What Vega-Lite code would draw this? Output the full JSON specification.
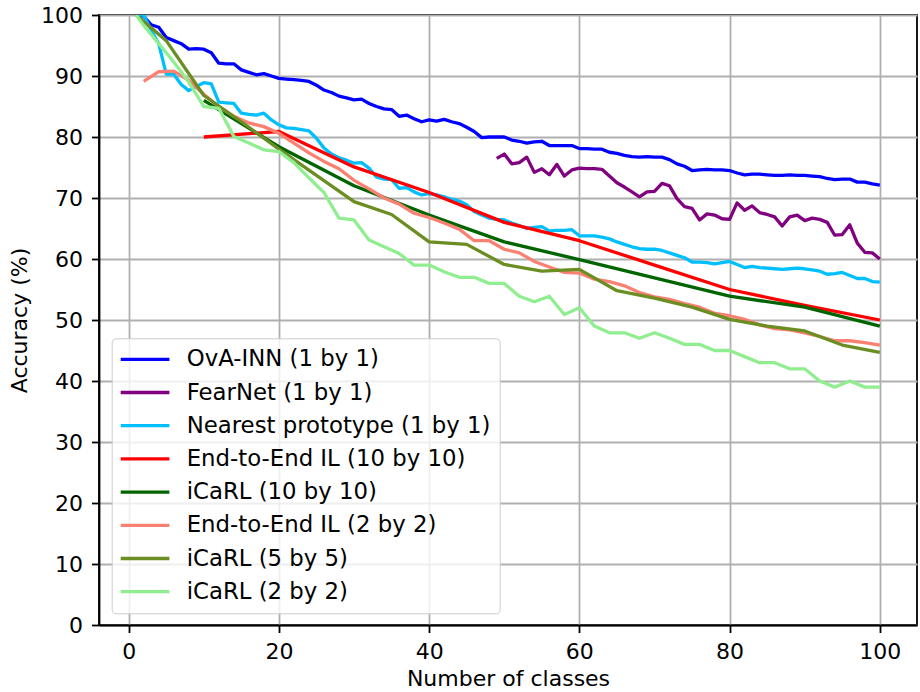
{
  "$schema": "https://vega.github.io/schema/vega-lite/v6.json",
  "width": 818,
  "height": 610,
  "autosize": {"type": "none"},
  "padding": {"left": 99, "top": 15, "right": 3, "bottom": 67},
  "background": "white",
  "config": {
    "font": "DejaVu Sans",
    "view": {"stroke": "black", "strokeWidth": 1.8},
    "axis": {
      "labelFont": "DejaVu Sans",
      "titleFont": "DejaVu Sans",
      "labelFontSize": 22,
      "titleFontSize": 22,
      "titleFontWeight": "normal",
      "labelColor": "black",
      "titleColor": "black",
      "tickColor": "black",
      "tickSize": 7.5,
      "tickWidth": 1.8,
      "domainColor": "black",
      "domainWidth": 1.8,
      "gridColor": "#b0b0b0",
      "gridWidth": 1.8,
      "gridOpacity": 1,
      "labelPadding": 9
    }
  },
  "data": {
    "values": [
      {"method": "OvA-INN (1 by 1)", "classes": 1, "acc": 100},
      {"method": "OvA-INN (1 by 1)", "classes": 2, "acc": 99.8},
      {"method": "OvA-INN (1 by 1)", "classes": 3, "acc": 98.4},
      {"method": "OvA-INN (1 by 1)", "classes": 4, "acc": 98.0},
      {"method": "OvA-INN (1 by 1)", "classes": 5, "acc": 96.3},
      {"method": "OvA-INN (1 by 1)", "classes": 6, "acc": 95.8},
      {"method": "OvA-INN (1 by 1)", "classes": 7, "acc": 95.3},
      {"method": "OvA-INN (1 by 1)", "classes": 8, "acc": 94.4},
      {"method": "OvA-INN (1 by 1)", "classes": 9, "acc": 94.5},
      {"method": "OvA-INN (1 by 1)", "classes": 10, "acc": 94.4},
      {"method": "OvA-INN (1 by 1)", "classes": 11, "acc": 93.8},
      {"method": "OvA-INN (1 by 1)", "classes": 12, "acc": 92.1},
      {"method": "OvA-INN (1 by 1)", "classes": 13, "acc": 92.0},
      {"method": "OvA-INN (1 by 1)", "classes": 14, "acc": 92.0},
      {"method": "OvA-INN (1 by 1)", "classes": 15, "acc": 91.0},
      {"method": "OvA-INN (1 by 1)", "classes": 16, "acc": 90.6},
      {"method": "OvA-INN (1 by 1)", "classes": 17, "acc": 90.2},
      {"method": "OvA-INN (1 by 1)", "classes": 18, "acc": 90.4},
      {"method": "OvA-INN (1 by 1)", "classes": 19, "acc": 90.0},
      {"method": "OvA-INN (1 by 1)", "classes": 20, "acc": 89.6},
      {"method": "OvA-INN (1 by 1)", "classes": 21, "acc": 89.5},
      {"method": "OvA-INN (1 by 1)", "classes": 22, "acc": 89.4},
      {"method": "OvA-INN (1 by 1)", "classes": 23, "acc": 89.3},
      {"method": "OvA-INN (1 by 1)", "classes": 24, "acc": 89.1},
      {"method": "OvA-INN (1 by 1)", "classes": 25, "acc": 88.5},
      {"method": "OvA-INN (1 by 1)", "classes": 26, "acc": 87.7},
      {"method": "OvA-INN (1 by 1)", "classes": 27, "acc": 87.3},
      {"method": "OvA-INN (1 by 1)", "classes": 28, "acc": 86.7},
      {"method": "OvA-INN (1 by 1)", "classes": 29, "acc": 86.4},
      {"method": "OvA-INN (1 by 1)", "classes": 30, "acc": 86.1},
      {"method": "OvA-INN (1 by 1)", "classes": 31, "acc": 86.2},
      {"method": "OvA-INN (1 by 1)", "classes": 32, "acc": 85.5},
      {"method": "OvA-INN (1 by 1)", "classes": 33, "acc": 85.0},
      {"method": "OvA-INN (1 by 1)", "classes": 34, "acc": 84.6},
      {"method": "OvA-INN (1 by 1)", "classes": 35, "acc": 84.5},
      {"method": "OvA-INN (1 by 1)", "classes": 36, "acc": 83.4},
      {"method": "OvA-INN (1 by 1)", "classes": 37, "acc": 83.6},
      {"method": "OvA-INN (1 by 1)", "classes": 38, "acc": 83.0},
      {"method": "OvA-INN (1 by 1)", "classes": 39, "acc": 82.5},
      {"method": "OvA-INN (1 by 1)", "classes": 40, "acc": 82.8},
      {"method": "OvA-INN (1 by 1)", "classes": 41, "acc": 82.6},
      {"method": "OvA-INN (1 by 1)", "classes": 42, "acc": 82.9},
      {"method": "OvA-INN (1 by 1)", "classes": 43, "acc": 82.5},
      {"method": "OvA-INN (1 by 1)", "classes": 44, "acc": 82.2},
      {"method": "OvA-INN (1 by 1)", "classes": 45, "acc": 81.6},
      {"method": "OvA-INN (1 by 1)", "classes": 46, "acc": 80.9},
      {"method": "OvA-INN (1 by 1)", "classes": 47, "acc": 79.9},
      {"method": "OvA-INN (1 by 1)", "classes": 48, "acc": 80.0},
      {"method": "OvA-INN (1 by 1)", "classes": 49, "acc": 80.0},
      {"method": "OvA-INN (1 by 1)", "classes": 50, "acc": 80.0},
      {"method": "OvA-INN (1 by 1)", "classes": 51, "acc": 79.5},
      {"method": "OvA-INN (1 by 1)", "classes": 52, "acc": 79.3},
      {"method": "OvA-INN (1 by 1)", "classes": 53, "acc": 79.0},
      {"method": "OvA-INN (1 by 1)", "classes": 54, "acc": 79.2},
      {"method": "OvA-INN (1 by 1)", "classes": 55, "acc": 79.3},
      {"method": "OvA-INN (1 by 1)", "classes": 56, "acc": 78.6},
      {"method": "OvA-INN (1 by 1)", "classes": 57, "acc": 78.6},
      {"method": "OvA-INN (1 by 1)", "classes": 58, "acc": 78.6},
      {"method": "OvA-INN (1 by 1)", "classes": 59, "acc": 78.6},
      {"method": "OvA-INN (1 by 1)", "classes": 60, "acc": 78.1},
      {"method": "OvA-INN (1 by 1)", "classes": 61, "acc": 78.1},
      {"method": "OvA-INN (1 by 1)", "classes": 62, "acc": 78.0},
      {"method": "OvA-INN (1 by 1)", "classes": 63, "acc": 78.0},
      {"method": "OvA-INN (1 by 1)", "classes": 64, "acc": 77.5},
      {"method": "OvA-INN (1 by 1)", "classes": 65, "acc": 77.3},
      {"method": "OvA-INN (1 by 1)", "classes": 66, "acc": 77.0},
      {"method": "OvA-INN (1 by 1)", "classes": 67, "acc": 76.8},
      {"method": "OvA-INN (1 by 1)", "classes": 68, "acc": 76.7},
      {"method": "OvA-INN (1 by 1)", "classes": 69, "acc": 76.8},
      {"method": "OvA-INN (1 by 1)", "classes": 70, "acc": 76.7},
      {"method": "OvA-INN (1 by 1)", "classes": 71, "acc": 76.7},
      {"method": "OvA-INN (1 by 1)", "classes": 72, "acc": 76.3},
      {"method": "OvA-INN (1 by 1)", "classes": 73, "acc": 75.6},
      {"method": "OvA-INN (1 by 1)", "classes": 74, "acc": 75.2},
      {"method": "OvA-INN (1 by 1)", "classes": 75, "acc": 74.5},
      {"method": "OvA-INN (1 by 1)", "classes": 76, "acc": 74.6},
      {"method": "OvA-INN (1 by 1)", "classes": 77, "acc": 74.7},
      {"method": "OvA-INN (1 by 1)", "classes": 78, "acc": 74.6},
      {"method": "OvA-INN (1 by 1)", "classes": 79, "acc": 74.6},
      {"method": "OvA-INN (1 by 1)", "classes": 80, "acc": 74.5},
      {"method": "OvA-INN (1 by 1)", "classes": 81, "acc": 74.1},
      {"method": "OvA-INN (1 by 1)", "classes": 82, "acc": 73.8},
      {"method": "OvA-INN (1 by 1)", "classes": 83, "acc": 73.9},
      {"method": "OvA-INN (1 by 1)", "classes": 84, "acc": 73.9},
      {"method": "OvA-INN (1 by 1)", "classes": 85, "acc": 73.8},
      {"method": "OvA-INN (1 by 1)", "classes": 86, "acc": 73.7},
      {"method": "OvA-INN (1 by 1)", "classes": 87, "acc": 73.7},
      {"method": "OvA-INN (1 by 1)", "classes": 88, "acc": 73.8},
      {"method": "OvA-INN (1 by 1)", "classes": 89, "acc": 73.7},
      {"method": "OvA-INN (1 by 1)", "classes": 90, "acc": 73.7},
      {"method": "OvA-INN (1 by 1)", "classes": 91, "acc": 73.6},
      {"method": "OvA-INN (1 by 1)", "classes": 92, "acc": 73.5},
      {"method": "OvA-INN (1 by 1)", "classes": 93, "acc": 73.2},
      {"method": "OvA-INN (1 by 1)", "classes": 94, "acc": 73.0},
      {"method": "OvA-INN (1 by 1)", "classes": 95, "acc": 73.1},
      {"method": "OvA-INN (1 by 1)", "classes": 96, "acc": 73.1},
      {"method": "OvA-INN (1 by 1)", "classes": 97, "acc": 72.6},
      {"method": "OvA-INN (1 by 1)", "classes": 98, "acc": 72.6},
      {"method": "OvA-INN (1 by 1)", "classes": 99, "acc": 72.3},
      {"method": "OvA-INN (1 by 1)", "classes": 100, "acc": 72.1},

      {"method": "FearNet (1 by 1)", "classes": 49, "acc": 76.5},
      {"method": "FearNet (1 by 1)", "classes": 50, "acc": 77.2},
      {"method": "FearNet (1 by 1)", "classes": 51, "acc": 75.6},
      {"method": "FearNet (1 by 1)", "classes": 52, "acc": 75.8},
      {"method": "FearNet (1 by 1)", "classes": 53, "acc": 76.7},
      {"method": "FearNet (1 by 1)", "classes": 54, "acc": 74.2},
      {"method": "FearNet (1 by 1)", "classes": 55, "acc": 74.8},
      {"method": "FearNet (1 by 1)", "classes": 56, "acc": 73.8},
      {"method": "FearNet (1 by 1)", "classes": 57, "acc": 75.5},
      {"method": "FearNet (1 by 1)", "classes": 58, "acc": 73.6},
      {"method": "FearNet (1 by 1)", "classes": 59, "acc": 74.6},
      {"method": "FearNet (1 by 1)", "classes": 60, "acc": 74.9},
      {"method": "FearNet (1 by 1)", "classes": 61, "acc": 74.8},
      {"method": "FearNet (1 by 1)", "classes": 62, "acc": 74.8},
      {"method": "FearNet (1 by 1)", "classes": 63, "acc": 74.7},
      {"method": "FearNet (1 by 1)", "classes": 64, "acc": 73.6},
      {"method": "FearNet (1 by 1)", "classes": 65, "acc": 72.5},
      {"method": "FearNet (1 by 1)", "classes": 66, "acc": 71.8},
      {"method": "FearNet (1 by 1)", "classes": 67, "acc": 71.0},
      {"method": "FearNet (1 by 1)", "classes": 68, "acc": 70.2},
      {"method": "FearNet (1 by 1)", "classes": 69, "acc": 71.0},
      {"method": "FearNet (1 by 1)", "classes": 70, "acc": 71.1},
      {"method": "FearNet (1 by 1)", "classes": 71, "acc": 72.4},
      {"method": "FearNet (1 by 1)", "classes": 72, "acc": 72.0},
      {"method": "FearNet (1 by 1)", "classes": 73, "acc": 69.9},
      {"method": "FearNet (1 by 1)", "classes": 74, "acc": 68.6},
      {"method": "FearNet (1 by 1)", "classes": 75, "acc": 68.3},
      {"method": "FearNet (1 by 1)", "classes": 76, "acc": 66.4},
      {"method": "FearNet (1 by 1)", "classes": 77, "acc": 67.4},
      {"method": "FearNet (1 by 1)", "classes": 78, "acc": 67.2},
      {"method": "FearNet (1 by 1)", "classes": 79, "acc": 66.6},
      {"method": "FearNet (1 by 1)", "classes": 80, "acc": 66.5},
      {"method": "FearNet (1 by 1)", "classes": 81, "acc": 69.2},
      {"method": "FearNet (1 by 1)", "classes": 82, "acc": 68.0},
      {"method": "FearNet (1 by 1)", "classes": 83, "acc": 68.7},
      {"method": "FearNet (1 by 1)", "classes": 84, "acc": 67.6},
      {"method": "FearNet (1 by 1)", "classes": 85, "acc": 67.3},
      {"method": "FearNet (1 by 1)", "classes": 86, "acc": 66.9},
      {"method": "FearNet (1 by 1)", "classes": 87, "acc": 65.4},
      {"method": "FearNet (1 by 1)", "classes": 88, "acc": 66.9},
      {"method": "FearNet (1 by 1)", "classes": 89, "acc": 67.2},
      {"method": "FearNet (1 by 1)", "classes": 90, "acc": 66.3},
      {"method": "FearNet (1 by 1)", "classes": 91, "acc": 66.7},
      {"method": "FearNet (1 by 1)", "classes": 92, "acc": 66.5},
      {"method": "FearNet (1 by 1)", "classes": 93, "acc": 66.0},
      {"method": "FearNet (1 by 1)", "classes": 94, "acc": 63.9},
      {"method": "FearNet (1 by 1)", "classes": 95, "acc": 64.0},
      {"method": "FearNet (1 by 1)", "classes": 96, "acc": 65.6},
      {"method": "FearNet (1 by 1)", "classes": 97, "acc": 62.6},
      {"method": "FearNet (1 by 1)", "classes": 98, "acc": 61.1},
      {"method": "FearNet (1 by 1)", "classes": 99, "acc": 61.0},
      {"method": "FearNet (1 by 1)", "classes": 100, "acc": 60.0},

      {"method": "Nearest prototype (1 by 1)", "classes": 1, "acc": 100},
      {"method": "Nearest prototype (1 by 1)", "classes": 2, "acc": 100},
      {"method": "Nearest prototype (1 by 1)", "classes": 3, "acc": 97.5},
      {"method": "Nearest prototype (1 by 1)", "classes": 4, "acc": 95.3},
      {"method": "Nearest prototype (1 by 1)", "classes": 5, "acc": 90.3},
      {"method": "Nearest prototype (1 by 1)", "classes": 6, "acc": 90.3},
      {"method": "Nearest prototype (1 by 1)", "classes": 7, "acc": 88.6},
      {"method": "Nearest prototype (1 by 1)", "classes": 8, "acc": 87.6},
      {"method": "Nearest prototype (1 by 1)", "classes": 9, "acc": 88.3},
      {"method": "Nearest prototype (1 by 1)", "classes": 10, "acc": 88.9},
      {"method": "Nearest prototype (1 by 1)", "classes": 11, "acc": 88.7},
      {"method": "Nearest prototype (1 by 1)", "classes": 12, "acc": 85.7},
      {"method": "Nearest prototype (1 by 1)", "classes": 13, "acc": 85.6},
      {"method": "Nearest prototype (1 by 1)", "classes": 14, "acc": 85.5},
      {"method": "Nearest prototype (1 by 1)", "classes": 15, "acc": 83.9},
      {"method": "Nearest prototype (1 by 1)", "classes": 16, "acc": 83.7},
      {"method": "Nearest prototype (1 by 1)", "classes": 17, "acc": 83.6},
      {"method": "Nearest prototype (1 by 1)", "classes": 18, "acc": 83.9},
      {"method": "Nearest prototype (1 by 1)", "classes": 19, "acc": 82.8},
      {"method": "Nearest prototype (1 by 1)", "classes": 20, "acc": 82.0},
      {"method": "Nearest prototype (1 by 1)", "classes": 21, "acc": 81.5},
      {"method": "Nearest prototype (1 by 1)", "classes": 22, "acc": 81.4},
      {"method": "Nearest prototype (1 by 1)", "classes": 23, "acc": 81.2},
      {"method": "Nearest prototype (1 by 1)", "classes": 24, "acc": 81.0},
      {"method": "Nearest prototype (1 by 1)", "classes": 25, "acc": 79.8},
      {"method": "Nearest prototype (1 by 1)", "classes": 26, "acc": 78.2},
      {"method": "Nearest prototype (1 by 1)", "classes": 27, "acc": 77.2},
      {"method": "Nearest prototype (1 by 1)", "classes": 28, "acc": 76.6},
      {"method": "Nearest prototype (1 by 1)", "classes": 29, "acc": 76.2},
      {"method": "Nearest prototype (1 by 1)", "classes": 30, "acc": 75.7},
      {"method": "Nearest prototype (1 by 1)", "classes": 31, "acc": 75.8},
      {"method": "Nearest prototype (1 by 1)", "classes": 32, "acc": 74.9},
      {"method": "Nearest prototype (1 by 1)", "classes": 33, "acc": 73.4},
      {"method": "Nearest prototype (1 by 1)", "classes": 34, "acc": 73.1},
      {"method": "Nearest prototype (1 by 1)", "classes": 35, "acc": 73.0},
      {"method": "Nearest prototype (1 by 1)", "classes": 36, "acc": 71.6},
      {"method": "Nearest prototype (1 by 1)", "classes": 37, "acc": 71.7},
      {"method": "Nearest prototype (1 by 1)", "classes": 38, "acc": 71.0},
      {"method": "Nearest prototype (1 by 1)", "classes": 39, "acc": 70.5},
      {"method": "Nearest prototype (1 by 1)", "classes": 40, "acc": 70.7},
      {"method": "Nearest prototype (1 by 1)", "classes": 41, "acc": 70.5},
      {"method": "Nearest prototype (1 by 1)", "classes": 42, "acc": 70.2},
      {"method": "Nearest prototype (1 by 1)", "classes": 43, "acc": 69.8},
      {"method": "Nearest prototype (1 by 1)", "classes": 44, "acc": 69.5},
      {"method": "Nearest prototype (1 by 1)", "classes": 45, "acc": 68.9},
      {"method": "Nearest prototype (1 by 1)", "classes": 46, "acc": 67.8},
      {"method": "Nearest prototype (1 by 1)", "classes": 47, "acc": 67.2},
      {"method": "Nearest prototype (1 by 1)", "classes": 48, "acc": 66.7},
      {"method": "Nearest prototype (1 by 1)", "classes": 49, "acc": 66.5},
      {"method": "Nearest prototype (1 by 1)", "classes": 50, "acc": 66.4},
      {"method": "Nearest prototype (1 by 1)", "classes": 51, "acc": 65.9},
      {"method": "Nearest prototype (1 by 1)", "classes": 52, "acc": 65.5},
      {"method": "Nearest prototype (1 by 1)", "classes": 53, "acc": 65.0},
      {"method": "Nearest prototype (1 by 1)", "classes": 54, "acc": 65.2},
      {"method": "Nearest prototype (1 by 1)", "classes": 55, "acc": 65.3},
      {"method": "Nearest prototype (1 by 1)", "classes": 56, "acc": 64.6},
      {"method": "Nearest prototype (1 by 1)", "classes": 57, "acc": 64.7},
      {"method": "Nearest prototype (1 by 1)", "classes": 58, "acc": 64.7},
      {"method": "Nearest prototype (1 by 1)", "classes": 59, "acc": 64.8},
      {"method": "Nearest prototype (1 by 1)", "classes": 60, "acc": 63.8},
      {"method": "Nearest prototype (1 by 1)", "classes": 61, "acc": 63.8},
      {"method": "Nearest prototype (1 by 1)", "classes": 62, "acc": 63.8},
      {"method": "Nearest prototype (1 by 1)", "classes": 63, "acc": 63.6},
      {"method": "Nearest prototype (1 by 1)", "classes": 64, "acc": 63.3},
      {"method": "Nearest prototype (1 by 1)", "classes": 65, "acc": 62.8},
      {"method": "Nearest prototype (1 by 1)", "classes": 66, "acc": 62.4},
      {"method": "Nearest prototype (1 by 1)", "classes": 67, "acc": 62.0},
      {"method": "Nearest prototype (1 by 1)", "classes": 68, "acc": 61.7},
      {"method": "Nearest prototype (1 by 1)", "classes": 69, "acc": 61.6},
      {"method": "Nearest prototype (1 by 1)", "classes": 70, "acc": 61.6},
      {"method": "Nearest prototype (1 by 1)", "classes": 71, "acc": 61.4},
      {"method": "Nearest prototype (1 by 1)", "classes": 72, "acc": 61.0},
      {"method": "Nearest prototype (1 by 1)", "classes": 73, "acc": 60.6},
      {"method": "Nearest prototype (1 by 1)", "classes": 74, "acc": 60.2},
      {"method": "Nearest prototype (1 by 1)", "classes": 75, "acc": 59.5},
      {"method": "Nearest prototype (1 by 1)", "classes": 76, "acc": 59.5},
      {"method": "Nearest prototype (1 by 1)", "classes": 77, "acc": 59.4},
      {"method": "Nearest prototype (1 by 1)", "classes": 78, "acc": 59.2},
      {"method": "Nearest prototype (1 by 1)", "classes": 79, "acc": 59.4},
      {"method": "Nearest prototype (1 by 1)", "classes": 80, "acc": 59.6},
      {"method": "Nearest prototype (1 by 1)", "classes": 81, "acc": 59.1},
      {"method": "Nearest prototype (1 by 1)", "classes": 82, "acc": 58.6},
      {"method": "Nearest prototype (1 by 1)", "classes": 83, "acc": 58.8},
      {"method": "Nearest prototype (1 by 1)", "classes": 84, "acc": 58.6},
      {"method": "Nearest prototype (1 by 1)", "classes": 85, "acc": 58.5},
      {"method": "Nearest prototype (1 by 1)", "classes": 86, "acc": 58.4},
      {"method": "Nearest prototype (1 by 1)", "classes": 87, "acc": 58.3},
      {"method": "Nearest prototype (1 by 1)", "classes": 88, "acc": 58.4},
      {"method": "Nearest prototype (1 by 1)", "classes": 89, "acc": 58.5},
      {"method": "Nearest prototype (1 by 1)", "classes": 90, "acc": 58.4},
      {"method": "Nearest prototype (1 by 1)", "classes": 91, "acc": 58.2},
      {"method": "Nearest prototype (1 by 1)", "classes": 92, "acc": 58.0},
      {"method": "Nearest prototype (1 by 1)", "classes": 93, "acc": 57.5},
      {"method": "Nearest prototype (1 by 1)", "classes": 94, "acc": 57.6},
      {"method": "Nearest prototype (1 by 1)", "classes": 95, "acc": 57.8},
      {"method": "Nearest prototype (1 by 1)", "classes": 96, "acc": 57.3},
      {"method": "Nearest prototype (1 by 1)", "classes": 97, "acc": 56.8},
      {"method": "Nearest prototype (1 by 1)", "classes": 98, "acc": 56.8},
      {"method": "Nearest prototype (1 by 1)", "classes": 99, "acc": 56.3},
      {"method": "Nearest prototype (1 by 1)", "classes": 100, "acc": 56.2},

      {"method": "End-to-End IL (10 by 10)", "classes": 10, "acc": 80.0},
      {"method": "End-to-End IL (10 by 10)", "classes": 20, "acc": 80.9},
      {"method": "End-to-End IL (10 by 10)", "classes": 30, "acc": 75.1},
      {"method": "End-to-End IL (10 by 10)", "classes": 40, "acc": 70.9},
      {"method": "End-to-End IL (10 by 10)", "classes": 50, "acc": 66.0},
      {"method": "End-to-End IL (10 by 10)", "classes": 60, "acc": 63.0},
      {"method": "End-to-End IL (10 by 10)", "classes": 70, "acc": 59.0},
      {"method": "End-to-End IL (10 by 10)", "classes": 80, "acc": 55.0},
      {"method": "End-to-End IL (10 by 10)", "classes": 90, "acc": 52.4},
      {"method": "End-to-End IL (10 by 10)", "classes": 100, "acc": 50.0},

      {"method": "iCaRL (10 by 10)", "classes": 10, "acc": 86.0},
      {"method": "iCaRL (10 by 10)", "classes": 20, "acc": 78.4},
      {"method": "iCaRL (10 by 10)", "classes": 30, "acc": 72.0},
      {"method": "iCaRL (10 by 10)", "classes": 40, "acc": 67.2},
      {"method": "iCaRL (10 by 10)", "classes": 50, "acc": 62.8},
      {"method": "iCaRL (10 by 10)", "classes": 60, "acc": 59.9},
      {"method": "iCaRL (10 by 10)", "classes": 70, "acc": 56.9},
      {"method": "iCaRL (10 by 10)", "classes": 80, "acc": 53.9},
      {"method": "iCaRL (10 by 10)", "classes": 90, "acc": 52.1},
      {"method": "iCaRL (10 by 10)", "classes": 100, "acc": 49.0},

      {"method": "End-to-End IL (2 by 2)", "classes": 2, "acc": 89.1},
      {"method": "End-to-End IL (2 by 2)", "classes": 4, "acc": 90.7},
      {"method": "End-to-End IL (2 by 2)", "classes": 6, "acc": 90.8},
      {"method": "End-to-End IL (2 by 2)", "classes": 8, "acc": 89.3},
      {"method": "End-to-End IL (2 by 2)", "classes": 10, "acc": 87.0},
      {"method": "End-to-End IL (2 by 2)", "classes": 12, "acc": 85.0},
      {"method": "End-to-End IL (2 by 2)", "classes": 14, "acc": 83.4},
      {"method": "End-to-End IL (2 by 2)", "classes": 16, "acc": 82.3},
      {"method": "End-to-End IL (2 by 2)", "classes": 18, "acc": 81.7},
      {"method": "End-to-End IL (2 by 2)", "classes": 20, "acc": 80.6},
      {"method": "End-to-End IL (2 by 2)", "classes": 22, "acc": 79.0},
      {"method": "End-to-End IL (2 by 2)", "classes": 24, "acc": 77.4},
      {"method": "End-to-End IL (2 by 2)", "classes": 26, "acc": 76.0},
      {"method": "End-to-End IL (2 by 2)", "classes": 28, "acc": 74.8},
      {"method": "End-to-End IL (2 by 2)", "classes": 30, "acc": 72.9},
      {"method": "End-to-End IL (2 by 2)", "classes": 32, "acc": 71.5},
      {"method": "End-to-End IL (2 by 2)", "classes": 34, "acc": 70.0},
      {"method": "End-to-End IL (2 by 2)", "classes": 36, "acc": 69.0},
      {"method": "End-to-End IL (2 by 2)", "classes": 38, "acc": 67.5},
      {"method": "End-to-End IL (2 by 2)", "classes": 40, "acc": 66.8},
      {"method": "End-to-End IL (2 by 2)", "classes": 42, "acc": 65.9},
      {"method": "End-to-End IL (2 by 2)", "classes": 44, "acc": 64.9},
      {"method": "End-to-End IL (2 by 2)", "classes": 46, "acc": 63.0},
      {"method": "End-to-End IL (2 by 2)", "classes": 48, "acc": 63.0},
      {"method": "End-to-End IL (2 by 2)", "classes": 50, "acc": 61.6},
      {"method": "End-to-End IL (2 by 2)", "classes": 52, "acc": 61.0},
      {"method": "End-to-End IL (2 by 2)", "classes": 54, "acc": 59.6},
      {"method": "End-to-End IL (2 by 2)", "classes": 56, "acc": 58.7},
      {"method": "End-to-End IL (2 by 2)", "classes": 58, "acc": 57.8},
      {"method": "End-to-End IL (2 by 2)", "classes": 60, "acc": 57.7},
      {"method": "End-to-End IL (2 by 2)", "classes": 62, "acc": 56.7},
      {"method": "End-to-End IL (2 by 2)", "classes": 64, "acc": 56.3},
      {"method": "End-to-End IL (2 by 2)", "classes": 66, "acc": 55.6},
      {"method": "End-to-End IL (2 by 2)", "classes": 68, "acc": 54.5},
      {"method": "End-to-End IL (2 by 2)", "classes": 70, "acc": 53.8},
      {"method": "End-to-End IL (2 by 2)", "classes": 72, "acc": 53.4},
      {"method": "End-to-End IL (2 by 2)", "classes": 74, "acc": 52.7},
      {"method": "End-to-End IL (2 by 2)", "classes": 76, "acc": 52.1},
      {"method": "End-to-End IL (2 by 2)", "classes": 78, "acc": 51.1},
      {"method": "End-to-End IL (2 by 2)", "classes": 80, "acc": 50.7},
      {"method": "End-to-End IL (2 by 2)", "classes": 82, "acc": 50.1},
      {"method": "End-to-End IL (2 by 2)", "classes": 84, "acc": 49.2},
      {"method": "End-to-End IL (2 by 2)", "classes": 86, "acc": 48.6},
      {"method": "End-to-End IL (2 by 2)", "classes": 88, "acc": 48.4},
      {"method": "End-to-End IL (2 by 2)", "classes": 90, "acc": 47.9},
      {"method": "End-to-End IL (2 by 2)", "classes": 92, "acc": 47.3},
      {"method": "End-to-End IL (2 by 2)", "classes": 94, "acc": 46.6},
      {"method": "End-to-End IL (2 by 2)", "classes": 96, "acc": 46.6},
      {"method": "End-to-End IL (2 by 2)", "classes": 98, "acc": 46.3},
      {"method": "End-to-End IL (2 by 2)", "classes": 100, "acc": 45.9},

      {"method": "iCaRL (5 by 5)", "classes": 1, "acc": 100},
      {"method": "iCaRL (5 by 5)", "classes": 5, "acc": 95.8},
      {"method": "iCaRL (5 by 5)", "classes": 10, "acc": 86.8},
      {"method": "iCaRL (5 by 5)", "classes": 15, "acc": 82.5},
      {"method": "iCaRL (5 by 5)", "classes": 20, "acc": 78.0},
      {"method": "iCaRL (5 by 5)", "classes": 25, "acc": 73.7},
      {"method": "iCaRL (5 by 5)", "classes": 30, "acc": 69.4},
      {"method": "iCaRL (5 by 5)", "classes": 35, "acc": 67.3},
      {"method": "iCaRL (5 by 5)", "classes": 40, "acc": 62.8},
      {"method": "iCaRL (5 by 5)", "classes": 45, "acc": 62.4},
      {"method": "iCaRL (5 by 5)", "classes": 50, "acc": 59.1},
      {"method": "iCaRL (5 by 5)", "classes": 55, "acc": 58.0},
      {"method": "iCaRL (5 by 5)", "classes": 60, "acc": 58.3},
      {"method": "iCaRL (5 by 5)", "classes": 65, "acc": 54.8},
      {"method": "iCaRL (5 by 5)", "classes": 70, "acc": 53.6},
      {"method": "iCaRL (5 by 5)", "classes": 75, "acc": 52.1},
      {"method": "iCaRL (5 by 5)", "classes": 80, "acc": 50.1},
      {"method": "iCaRL (5 by 5)", "classes": 85, "acc": 49.0},
      {"method": "iCaRL (5 by 5)", "classes": 90, "acc": 48.2},
      {"method": "iCaRL (5 by 5)", "classes": 95, "acc": 45.9},
      {"method": "iCaRL (5 by 5)", "classes": 100, "acc": 44.7},

      {"method": "iCaRL (2 by 2)", "classes": 1, "acc": 100},
      {"method": "iCaRL (2 by 2)", "classes": 2, "acc": 98.3},
      {"method": "iCaRL (2 by 2)", "classes": 4, "acc": 95.3},
      {"method": "iCaRL (2 by 2)", "classes": 6, "acc": 92.3},
      {"method": "iCaRL (2 by 2)", "classes": 8, "acc": 89.0},
      {"method": "iCaRL (2 by 2)", "classes": 10, "acc": 85.0},
      {"method": "iCaRL (2 by 2)", "classes": 12, "acc": 84.7},
      {"method": "iCaRL (2 by 2)", "classes": 14, "acc": 80.1},
      {"method": "iCaRL (2 by 2)", "classes": 16, "acc": 79.0},
      {"method": "iCaRL (2 by 2)", "classes": 18, "acc": 77.9},
      {"method": "iCaRL (2 by 2)", "classes": 20, "acc": 77.6},
      {"method": "iCaRL (2 by 2)", "classes": 22, "acc": 75.8},
      {"method": "iCaRL (2 by 2)", "classes": 24, "acc": 73.3},
      {"method": "iCaRL (2 by 2)", "classes": 26, "acc": 70.9},
      {"method": "iCaRL (2 by 2)", "classes": 28, "acc": 66.7},
      {"method": "iCaRL (2 by 2)", "classes": 30, "acc": 66.4},
      {"method": "iCaRL (2 by 2)", "classes": 32, "acc": 63.1},
      {"method": "iCaRL (2 by 2)", "classes": 34, "acc": 62.0},
      {"method": "iCaRL (2 by 2)", "classes": 36, "acc": 60.9},
      {"method": "iCaRL (2 by 2)", "classes": 38, "acc": 59.0},
      {"method": "iCaRL (2 by 2)", "classes": 40, "acc": 59.0},
      {"method": "iCaRL (2 by 2)", "classes": 42, "acc": 57.9},
      {"method": "iCaRL (2 by 2)", "classes": 44, "acc": 57.0},
      {"method": "iCaRL (2 by 2)", "classes": 46, "acc": 57.0},
      {"method": "iCaRL (2 by 2)", "classes": 48, "acc": 56.0},
      {"method": "iCaRL (2 by 2)", "classes": 50, "acc": 56.0},
      {"method": "iCaRL (2 by 2)", "classes": 52, "acc": 53.9},
      {"method": "iCaRL (2 by 2)", "classes": 54, "acc": 53.0},
      {"method": "iCaRL (2 by 2)", "classes": 56, "acc": 53.9},
      {"method": "iCaRL (2 by 2)", "classes": 58, "acc": 50.9},
      {"method": "iCaRL (2 by 2)", "classes": 60, "acc": 52.0},
      {"method": "iCaRL (2 by 2)", "classes": 62, "acc": 49.0},
      {"method": "iCaRL (2 by 2)", "classes": 64, "acc": 47.9},
      {"method": "iCaRL (2 by 2)", "classes": 66, "acc": 47.9},
      {"method": "iCaRL (2 by 2)", "classes": 68, "acc": 47.0},
      {"method": "iCaRL (2 by 2)", "classes": 70, "acc": 47.9},
      {"method": "iCaRL (2 by 2)", "classes": 72, "acc": 47.0},
      {"method": "iCaRL (2 by 2)", "classes": 74, "acc": 46.0},
      {"method": "iCaRL (2 by 2)", "classes": 76, "acc": 46.0},
      {"method": "iCaRL (2 by 2)", "classes": 78, "acc": 45.0},
      {"method": "iCaRL (2 by 2)", "classes": 80, "acc": 45.0},
      {"method": "iCaRL (2 by 2)", "classes": 82, "acc": 44.0},
      {"method": "iCaRL (2 by 2)", "classes": 84, "acc": 43.0},
      {"method": "iCaRL (2 by 2)", "classes": 86, "acc": 43.0},
      {"method": "iCaRL (2 by 2)", "classes": 88, "acc": 42.0},
      {"method": "iCaRL (2 by 2)", "classes": 90, "acc": 42.0},
      {"method": "iCaRL (2 by 2)", "classes": 92, "acc": 40.0},
      {"method": "iCaRL (2 by 2)", "classes": 94, "acc": 39.0},
      {"method": "iCaRL (2 by 2)", "classes": 96, "acc": 40.0},
      {"method": "iCaRL (2 by 2)", "classes": 98, "acc": 39.0},
      {"method": "iCaRL (2 by 2)", "classes": 100, "acc": 39.0}
    ]
  },
  "mark": {"type": "line", "strokeWidth": 3.3, "strokeJoin": "round", "clip": true},
  "encoding": {
    "x": {
      "field": "classes",
      "type": "quantitative",
      "scale": {"domain": [-3.95, 104.95], "nice": false, "zero": false},
      "axis": {"values": [0, 20, 40, 60, 80, 100], "title": "Number of classes", "titlePadding": 6}
    },
    "y": {
      "field": "acc",
      "type": "quantitative",
      "scale": {"domain": [0, 100], "nice": false},
      "axis": {"values": [0, 10, 20, 30, 40, 50, 60, 70, 80, 90, 100], "title": "Accuracy (%)", "titlePadding": 9}
    },
    "color": {
      "field": "method",
      "type": "nominal",
      "scale": {
        "domain": ["OvA-INN (1 by 1)", "FearNet (1 by 1)", "Nearest prototype (1 by 1)", "End-to-End IL (10 by 10)", "iCaRL (10 by 10)", "End-to-End IL (2 by 2)", "iCaRL (5 by 5)", "iCaRL (2 by 2)"],
        "range": ["#0000ff", "#800080", "#00bfff", "#ff0000", "#006400", "#fa8072", "#6b8e23", "#90ee90"]
      },
      "legend": {
        "orient": "none",
        "legendX": 12.7,
        "legendY": 323.3,
        "title": null,
        "labelFont": "DejaVu Sans",
        "labelFontSize": 22.8,
        "labelColor": "black",
        "labelLimit": 0,
        "labelOffset": 42,
        "symbolType": "M-1.2,0H3.67",
        "symbolSize": 400,
        "symbolStrokeWidth": 3.3,
        "rowPadding": 9.2,
        "padding": 9,
        "fillColor": "rgba(255,255,255,0.8)",
        "strokeColor": "#cccccc",
        "cornerRadius": 4
      }
    }
  }
}
